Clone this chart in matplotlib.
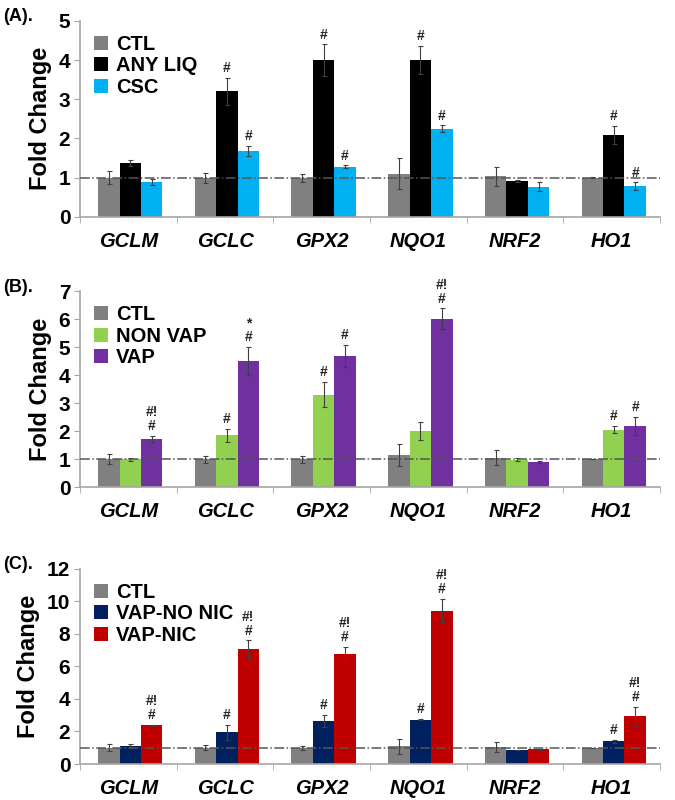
import matplotlib
matplotlib.use("Agg")
import matplotlib.pyplot as plt
import numpy as np

plt.rcParams["font.family"] = ["Liberation Sans", "DejaVu Sans"]
plt.rcParams["font.weight"] = "bold"

genes = ["GCLM", "GCLC", "GPX2", "NQO1", "NRF2", "HO1"]

# Panel A
a_names = ["CTL", "ANY LIQ", "CSC"]
a_colors = ["#808080", "#000000", "#00b0f0"]
a_vals = [[1.0, 1.0, 1.0, 1.1, 1.03, 1.0],
          [1.37, 3.2, 4.0, 4.0, 0.92, 2.09],
          [0.88, 1.67, 1.28, 2.25, 0.77, 0.78]]
a_errs = [[0.17, 0.13, 0.1, 0.4, 0.25, 0.01],
          [0.07, 0.35, 0.4, 0.36, 0.03, 0.23],
          [0.08, 0.13, 0.03, 0.08, 0.12, 0.1]]
a_marks = [["", "", "", "", "", ""],
           ["", "#", "#", "#", "", "#"],
           ["", "#", "#", "#", "", "#"]]

# Panel B
b_names = ["CTL", "NON VAP", "VAP"]
b_colors = ["#808080", "#92d050", "#7030a0"]
b_vals = [[1.0, 1.0, 1.0, 1.14, 1.06, 1.0],
          [1.0, 1.85, 3.3, 2.01, 0.98, 2.06],
          [1.73, 4.5, 4.69, 6.02, 0.9, 2.18]]
b_errs = [[0.17, 0.13, 0.12, 0.4, 0.28, 0.01],
          [0.05, 0.22, 0.45, 0.33, 0.05, 0.12],
          [0.1, 0.5, 0.38, 0.37, 0.05, 0.33]]
b_marks = [["", "", "", "", "", ""],
           ["", "#", "#", "", "", "#"],
           ["#!\n#", "*\n#", "#", "#!\n#", "", "#"]]

# Panel C
c_names = ["CTL", "VAP-NO NIC", "VAP-NIC"]
c_colors = ["#808080", "#002060", "#c00000"]
c_vals = [[1.0, 1.0, 1.0, 1.08, 1.05, 1.0],
          [1.1, 1.95, 2.65, 2.73, 0.86, 1.39],
          [2.37, 7.05, 6.77, 9.43, 0.9, 2.93]]
c_errs = [[0.2, 0.15, 0.12, 0.45, 0.3, 0.01],
          [0.1, 0.45, 0.38, 0.05, 0.03, 0.1],
          [0.05, 0.55, 0.43, 0.72, 0.05, 0.6]]
c_marks = [["", "", "", "", "", ""],
           ["", "#", "#", "#", "", "#"],
           ["#!\n#", "#!\n#", "#!\n#", "#!\n#", "", "#!\n#"]]

panels = [
    ("(A).", a_names, a_colors, a_vals, a_errs, a_marks, 5, 1, [0.1185, 0.729, 0.8595, 0.245]),
    ("(B).", b_names, b_colors, b_vals, b_errs, b_marks, 7, 1, [0.1185, 0.391, 0.8595, 0.245]),
    ("(C).", c_names, c_colors, c_vals, c_errs, c_marks, 12, 2, [0.1185, 0.045, 0.8595, 0.244]),
]

fig = plt.figure(figsize=(6.75, 8), dpi=100)
axis_col = "#a6a6a6"

for label, names, colors, vals, errs, marks, ymax, ystep, rect in panels:
    ax = fig.add_axes(rect)
    x = np.arange(len(genes))
    w = 0.222
    for i in range(3):
        xs = x + (i - 1) * w + 0.02
        ax.bar(xs, vals[i], width=w, color=colors[i], edgecolor="none", label=names[i],
               zorder=2)
        ax.errorbar(xs, vals[i], yerr=errs[i], fmt="none", ecolor="#404040",
                    elinewidth=0.8, capsize=1.8, capthick=0.8, zorder=3)
        for j in range(len(genes)):
            if marks[i][j]:
                ax.annotate(marks[i][j], (xs[j], vals[i][j] + errs[i][j]),
                            xytext=(0, 2), textcoords="offset points",
                            ha="center", va="bottom", fontsize=10,
                            fontweight="bold", color="#262626",
                            linespacing=1.0)
    ax.axhline(1, color="#555555", linestyle="-.", linewidth=1.1, zorder=4)

    ax.set_xlim(-0.5, len(genes) - 0.5)
    ax.set_ylim(0, ymax)
    ax.set_yticks(np.arange(0, ymax + ystep / 2, ystep))
    ax.set_xticks(x)
    ax.set_xticklabels(genes, fontsize=14.5, fontweight="bold", style="italic")
    ax.set_xticks(np.arange(-0.5, len(genes)), minor=True)
    ax.tick_params(axis="x", which="major", length=0, pad=11)
    ax.tick_params(axis="x", which="minor", length=4, color=axis_col, direction="out")
    ax.tick_params(axis="y", length=4, color=axis_col, labelsize=15, pad=3)
    for t in ax.get_yticklabels():
        t.set_fontweight("bold")
    for s in ["top", "right"]:
        ax.spines[s].set_visible(False)
    for s in ["left", "bottom"]:
        ax.spines[s].set_color(axis_col)
        ax.spines[s].set_linewidth(1.2)

    ax.set_ylabel("Fold Change", fontsize=17, fontweight="bold", labelpad=5)
    ax.legend(loc="upper left", bbox_to_anchor=(0.0, 1.0), frameon=False,
              prop={"size": 14.5, "weight": "bold"}, handlelength=0.7,
              handleheight=0.7, handletextpad=0.4, labelspacing=0.12,
              borderaxespad=0.3)
    fig.text(0.005, rect[1] + rect[3] + 0.005, label, fontsize=13, fontweight="bold",
             ha="left", va="center")

fig.savefig("out.png", dpi=100)
